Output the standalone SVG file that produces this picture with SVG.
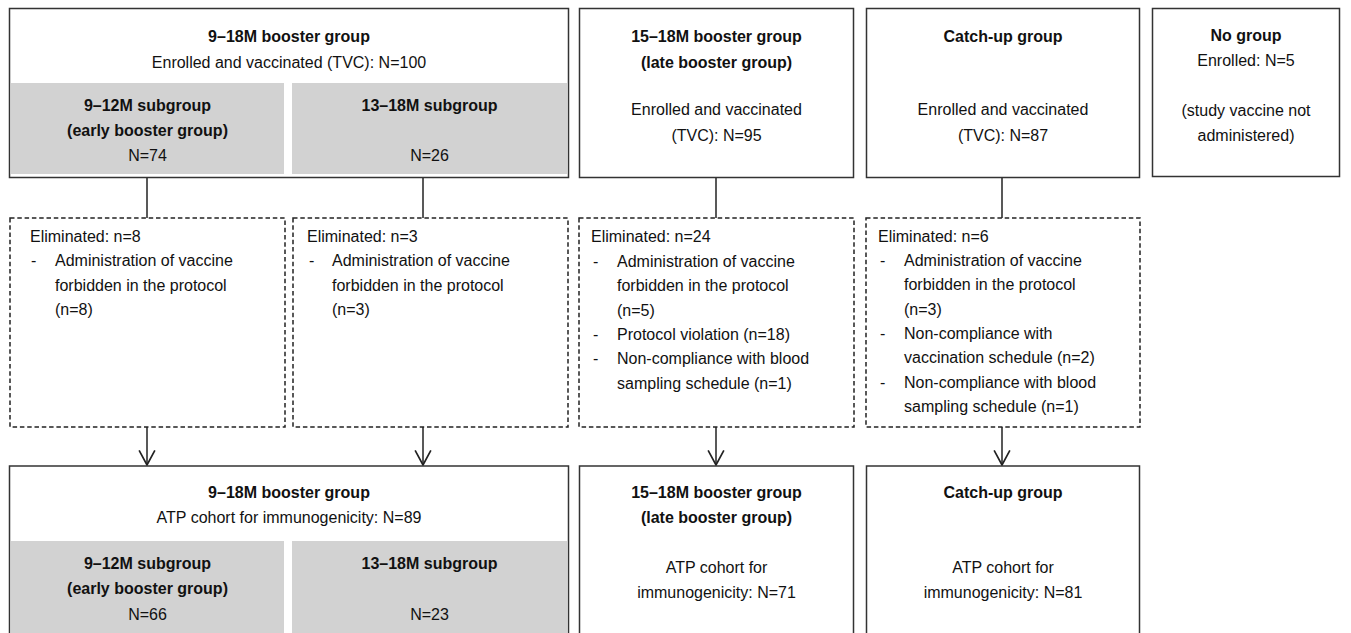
<svg xmlns="http://www.w3.org/2000/svg" width="1351" height="633" viewBox="0 0 1351 633">
<style>
text{font-family:"Liberation Sans",Arial,sans-serif;font-size:16px;fill:#111}
.b{font-weight:bold}
.c{text-anchor:middle}
.box{fill:#fff;stroke:#333;stroke-width:1.5}
.dash{fill:#fff;stroke:#222;stroke-width:1.5;stroke-dasharray:4.5,2.8}
.gray{fill:#d2d2d2}
.con{stroke:#222;stroke-width:1.5;fill:none}
</style>
<defs>
<marker id="arr" markerUnits="userSpaceOnUse" markerWidth="18" markerHeight="18" refX="15" refY="8" orient="auto" viewBox="0 0 16 16">
<path d="M2,1 L15,8 L2,15" fill="none" stroke="#222" stroke-width="1.5"/>
</marker>
</defs>
<rect width="1351" height="633" fill="#fff"/>

<g id="connectors">
<line class="con" x1="147" y1="177" x2="147" y2="218"/>
<line class="con" x1="423" y1="177" x2="423" y2="218"/>
<line class="con" x1="716" y1="177" x2="716" y2="218"/>
<line class="con" x1="1002" y1="177" x2="1002" y2="218"/>
<line class="con" x1="147" y1="427" x2="147" y2="465" marker-end="url(#arr)"/>
<line class="con" x1="423" y1="427" x2="423" y2="465" marker-end="url(#arr)"/>
<line class="con" x1="716" y1="427" x2="716" y2="465" marker-end="url(#arr)"/>
<line class="con" x1="1002" y1="427" x2="1002" y2="465" marker-end="url(#arr)"/>
</g>

<g id="booster918">
<rect class="box" x="9.5" y="8.5" width="559" height="169"/>
<rect class="gray" x="11" y="83" width="273" height="91"/>
<rect class="gray" x="292" y="83" width="275" height="91"/>
<text class="b c" x="289" y="42">9–18M booster group</text>
<text class="c" x="289" y="68">Enrolled and vaccinated (TVC): N=100</text>
<text class="b c" x="147.5" y="111">9–12M subgroup</text>
<text class="b c" x="147.5" y="136">(early booster group)</text>
<text class="c" x="147.5" y="161">N=74</text>
<text class="b c" x="429.5" y="111">13–18M subgroup</text>
<text class="c" x="429.5" y="161">N=26</text>
</g>

<g id="booster1518">
<rect class="box" x="579.5" y="8.5" width="274" height="169"/>
<text class="b c" x="716.5" y="42">15–18M booster group</text>
<text class="b c" x="716.5" y="68">(late booster group)</text>
<text class="c" x="716.5" y="115">Enrolled and vaccinated</text>
<text class="c" x="716.5" y="141">(TVC): N=95</text>
</g>

<g id="catchup">
<rect class="box" x="866.5" y="8.5" width="273" height="169"/>
<text class="b c" x="1003" y="42">Catch-up group</text>
<text class="c" x="1003" y="115">Enrolled and vaccinated</text>
<text class="c" x="1003" y="141">(TVC): N=87</text>
</g>

<g id="nogroup">
<rect class="box" x="1152.5" y="8.5" width="187" height="168"/>
<text class="b c" x="1246" y="41">No group</text>
<text class="c" x="1246" y="66">Enrolled: N=5</text>
<text class="c" x="1246" y="116">(study vaccine not</text>
<text class="c" x="1246" y="141">administered)</text>
</g>

<g id="elim1">
<rect class="dash" x="10" y="218" width="275" height="209"/>
<text x="30" y="242">Eliminated: n=8</text>
<text x="31" y="266">-</text>
<text x="55" y="266">Administration of vaccine</text>
<text x="55" y="291">forbidden in the protocol</text>
<text x="55" y="315">(n=8)</text>
</g>

<g id="elim2">
<rect class="dash" x="293" y="218" width="275" height="209"/>
<text x="307" y="242">Eliminated: n=3</text>
<text x="309" y="266">-</text>
<text x="332" y="266">Administration of vaccine</text>
<text x="332" y="291">forbidden in the protocol</text>
<text x="332" y="315">(n=3)</text>
</g>

<g id="elim3">
<rect class="dash" x="579" y="218" width="275" height="209"/>
<text x="591" y="242">Eliminated: n=24</text>
<text x="593" y="267">-</text>
<text x="617" y="267">Administration of vaccine</text>
<text x="617" y="291">forbidden in the protocol</text>
<text x="617" y="316">(n=5)</text>
<text x="593" y="340">-</text>
<text x="617" y="340">Protocol violation (n=18)</text>
<text x="593" y="364">-</text>
<text x="617" y="364">Non-compliance with blood</text>
<text x="617" y="389">sampling schedule (n=1)</text>
</g>

<g id="elim4">
<rect class="dash" x="866" y="218" width="274" height="209"/>
<text x="878" y="242">Eliminated: n=6</text>
<text x="880" y="266">-</text>
<text x="904" y="266">Administration of vaccine</text>
<text x="904" y="290">forbidden in the protocol</text>
<text x="904" y="315">(n=3)</text>
<text x="880" y="339">-</text>
<text x="904" y="339">Non-compliance with</text>
<text x="904" y="363">vaccination schedule (n=2)</text>
<text x="880" y="388">-</text>
<text x="904" y="388">Non-compliance with blood</text>
<text x="904" y="412">sampling schedule (n=1)</text>
</g>

<g id="atp918">
<rect class="box" x="9.5" y="466" width="559" height="180"/>
<rect class="gray" x="11" y="541" width="273" height="100"/>
<rect class="gray" x="292" y="541" width="275" height="100"/>
<text class="b c" x="289" y="498">9–18M booster group</text>
<text class="c" x="289" y="523">ATP cohort for immunogenicity: N=89</text>
<text class="b c" x="147.5" y="569">9–12M subgroup</text>
<text class="b c" x="147.5" y="594">(early booster group)</text>
<text class="c" x="147.5" y="620">N=66</text>
<text class="b c" x="429.5" y="569">13–18M subgroup</text>
<text class="c" x="429.5" y="620">N=23</text>
</g>

<g id="atp1518">
<rect class="box" x="579.5" y="466" width="274" height="180"/>
<text class="b c" x="716.5" y="498">15–18M booster group</text>
<text class="b c" x="716.5" y="523">(late booster group)</text>
<text class="c" x="716.5" y="573">ATP cohort for</text>
<text class="c" x="716.5" y="598">immunogenicity: N=71</text>
</g>

<g id="atpcatchup">
<rect class="box" x="866.5" y="466" width="273" height="180"/>
<text class="b c" x="1003" y="498">Catch-up group</text>
<text class="c" x="1003" y="573">ATP cohort for</text>
<text class="c" x="1003" y="598">immunogenicity: N=81</text>
</g>
</svg>
